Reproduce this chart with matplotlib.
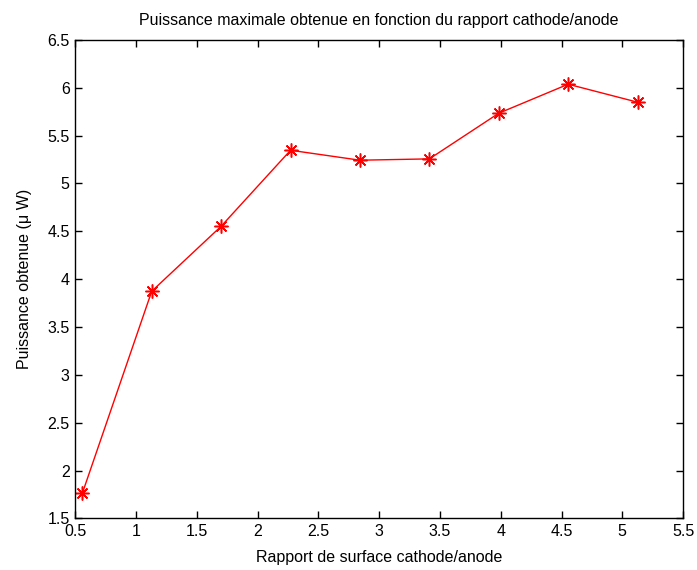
import matplotlib
matplotlib.use("Agg")
import matplotlib.pyplot as plt

# Valeurs
rapport = [0.558, 1.129, 1.700, 2.271, 2.842, 3.413, 3.984, 4.555, 5.126]
puissance = [1.763, 3.874, 4.553, 5.347, 5.243, 5.257, 5.734, 6.037, 5.849]
xticks = [0.5, 1, 1.5, 2, 2.5, 3, 3.5, 4, 4.5, 5, 5.5]
yticks = [1.5, 2, 2.5, 3, 3.5, 4, 4.5, 5, 5.5, 6, 6.5]

plt.rcParams['font.family'] = ['Liberation Sans', 'DejaVu Sans']
plt.rcParams['font.size'] = 11.5

fig = plt.figure(figsize=(6.97, 5.70), dpi=100)
ax = fig.add_axes([0.108, 0.0904, 0.872, 0.8396])

# asterisque façon MATLAB
ax.plot(rapport, puissance, color="red", linewidth=1, marker=(8, 2, 0),
        markersize=10, markeredgewidth=1.1)

ax.set_xlim(0.5, 5.5)
ax.set_ylim(1.5, 6.5)
ax.set_xticks(xticks)
ax.set_xticklabels([f"{v:g}" for v in xticks])
ax.set_yticks(yticks)
ax.set_yticklabels([f"{v:g}" for v in yticks])
ax.tick_params(direction="in", top=True, right=True, length=5, width=1, pad=4)
for s in ax.spines.values():
    s.set_linewidth(1)

ax.set_title("Puissance maximale obtenue en fonction du rapport cathode/anode", fontsize=11.5, pad=11)
ax.set_xlabel("Rapport de surface cathode/anode", labelpad=8)
ax.set_ylabel("Puissance obtenue (μ W)", labelpad=11)

fig.savefig("out.png", dpi=100)
